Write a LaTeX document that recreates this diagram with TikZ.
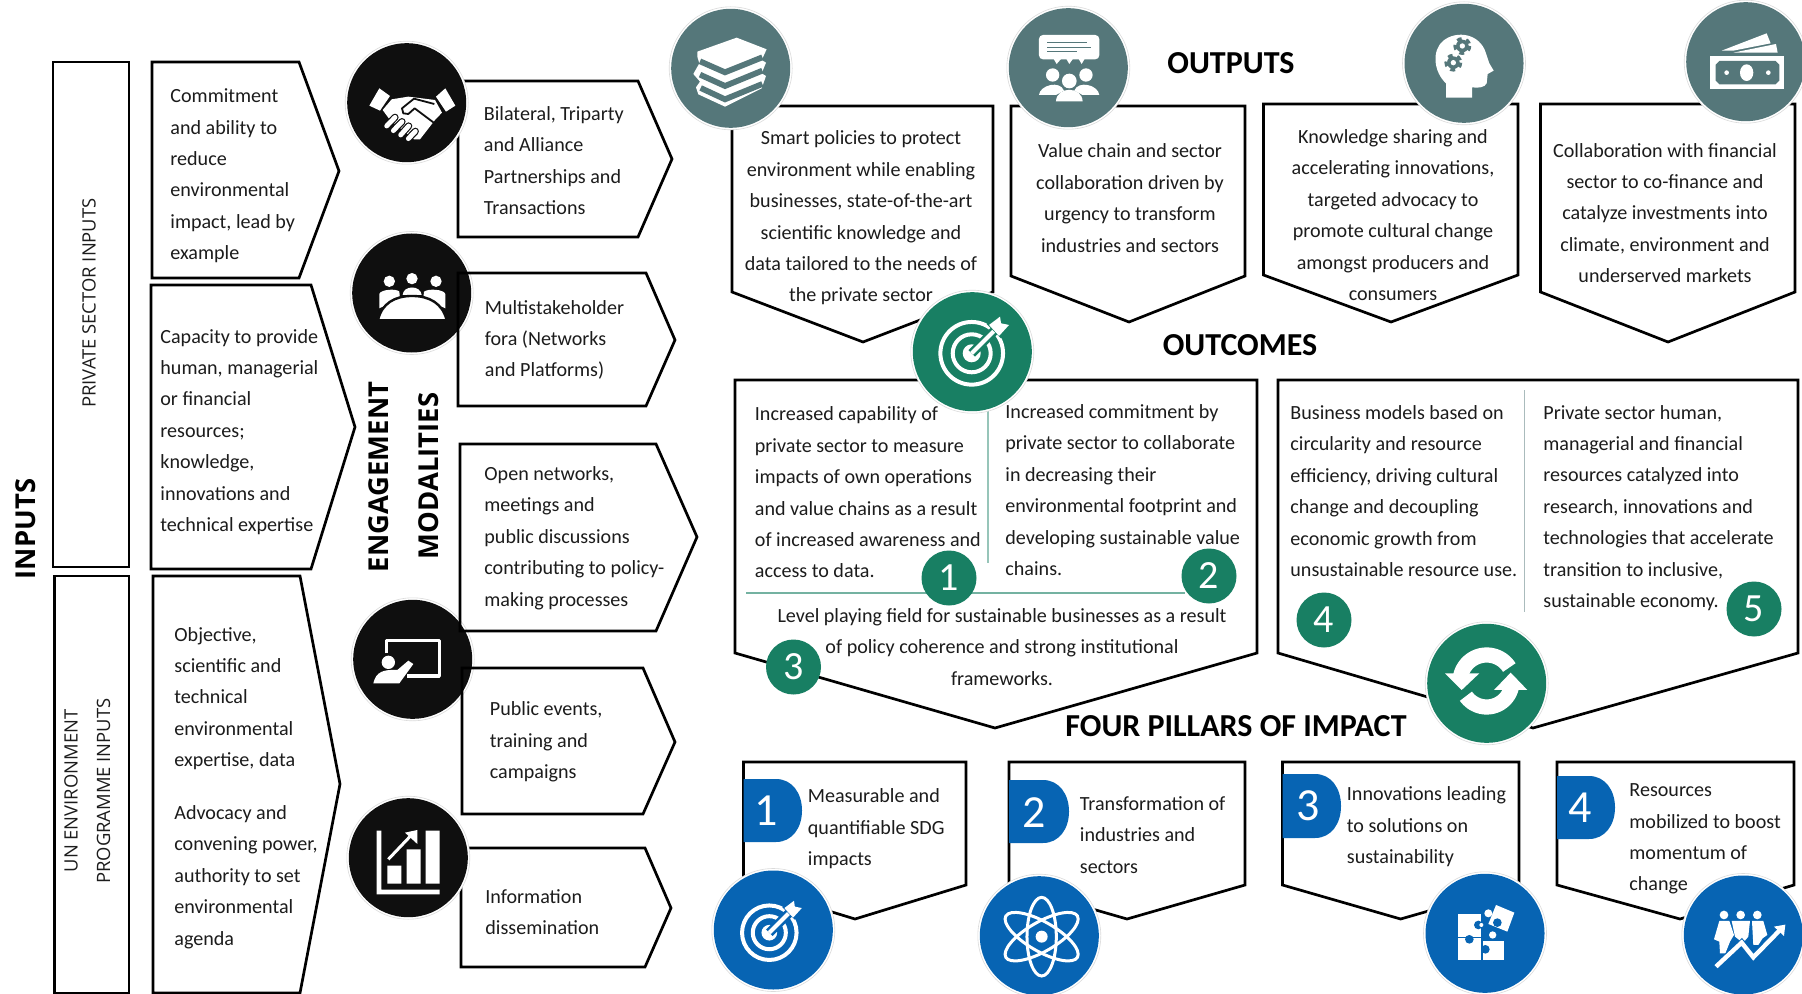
\documentclass[tikz,border=0pt]{standalone}
\usepackage{fontspec}
\setmainfont{Carlito}
\newfontfamily\osans{Open Sans}
\definecolor{ink}{HTML}{1C1C1C}
\definecolor{slate}{HTML}{55777A}
\definecolor{leaf}{HTML}{187F63}
\definecolor{azure}{HTML}{0764B3}
\definecolor{coal}{HTML}{0F0F0F}
\tikzset{
 shapeline/.style={draw=black,line width=1.35pt,line join=miter},
 body/.style={inner sep=0,text=ink,font=\fontsize{10.05}{15.7}\selectfont},
 lbody/.style={body,align=left,anchor=west},
 cbody/.style={body,align=center},
 head/.style={inner sep=0,font=\fontsize{16}{18}\selectfont\bfseries,text=black},
 side/.style={inner sep=0,rotate=90,font=\osans\fontsize{9.2}{11}\selectfont,text=ink},
 sidebold/.style={inner sep=0,rotate=90,font=\osans\bfseries\fontsize{13.7}{16}\selectfont,text=black},
 numdisc/.style={circle,fill=leaf,text=white,minimum size=27.5pt,inner sep=0,font=\fontsize{20}{22}\selectfont},
 numtab/.style={inner sep=0,text=white,font=\fontsize{23}{25}\selectfont},
}
% horizontal pentagon: x0 shoulder tipx top bottom tipy
\newcommand\hpent[6]{\draw[shapeline] (#1,#4) -- (#2,#4) -- (#3,#6) -- (#2,#5) -- (#1,#5) -- cycle;}
% downward pentagon: left right top shoulder tipx tipy
\newcommand\vpent[6]{\draw[shapeline] (#1,#3) -- (#2,#3) -- (#2,#4) -- (#5,#6) -- (#1,#4) -- cycle;}
% disc with halo: x y colour
\newcommand\disc[3]{\fill[white] (#1,#2) circle (61.5); \draw[black!14,line width=.3pt] (#1,#2) circle (61.5); \fill[#3] (#1,#2) circle (59.5);}
% tab: x0 x1 y0 y1
\newcommand\tabshape[4]{\fill[azure] (#1,#3) -- ({#2-26},#3) .. controls ({#2-10},#3) and (#2,{#3+14}) .. (#2,{(#3+#4)/2}) .. controls (#2,{#4-14}) and ({#2-10},#4) .. ({#2-26},#4) -- (#1,#4) -- cycle;}
\newcommand\target[1]{%
 \draw[white,line width=2pt] (0,0) circle (94);
 \draw[white,line width=2pt] (0,0) circle (57);
 \fill[white] (0,0) circle (27);
 \draw[#1,line width=4.6pt] (0,0) -- (78,-78);
 \draw[white,line width=2pt] (0,0) -- (78,-78);
 \fill[#1] (45,-88) -- (88,-128) -- (128,-88) -- (88,-45) -- cycle;
 \fill[white] (52,-85) -- (85,-110) -- (88,-90) -- (112,-85) -- (82,-52) -- cycle;
}
\begin{document}
\begin{tikzpicture}[x=0.5pt,y=-0.5pt]
\useasboundingbox (0,0) rectangle (1802,994);
\fill[white] (0,0) rectangle (1802,994);
% discs under the boxes
\disc{411.7}{293}{coal}
\disc{412.7}{659.3}{coal}
% icon: people at table
\begin{scope}[shift={(340,40)},scale=.3333]
 \fill[white] (148,724) circle (17) (216,716) circle (17) (288,724) circle (17);
 \fill[white] (118,805) -- (118,762) .. controls (122,748) and (170,745) .. (178,755) -- (180,775) -- cycle;
 \fill[white] (316,805) -- (316,762) .. controls (312,748) and (265,745) .. (252,755) -- (250,775) -- cycle;
 \fill[white] (188,765) .. controls (190,735) and (242,735) .. (245,765) -- cycle;
 \draw[coal,line width=1.2pt,fill=white] (114,841) .. controls (125,790) and (165,768) .. (216,768) .. controls (268,768) and (308,790) .. (320,841) -- cycle;
\end{scope}
% icon: presentation
\begin{scope}[shift={(340,590)},scale=.3333]
 \draw[white,line width=1.6pt,line join=round] (140,190) -- (140,152) -- (298,152) -- (298,258) -- (200,258);
 \fill[white] (145,217) circle (20);
 \fill[white] (100,280) .. controls (108,245) and (130,238) .. (172,240) -- (205,212) -- (220,222) -- (178,280) -- cycle;
\end{scope}
% left boxes
\draw[shapeline] (53,62) rectangle (129,567);
\draw[shapeline] (54.5,576) rectangle (129,993);
\hpent{152}{299}{339}{62}{278}{171}
\hpent{151}{311}{355}{285}{569}{427}
\hpent{153}{300}{340}{576}{993}{784}
% modality boxes
\hpent{458}{638}{672}{81}{237}{159}
\hpent{458}{646}{675}{273}{406}{340}
\hpent{460}{656}{697}{444}{631}{537}
\hpent{462}{643}{675}{668}{814}{742}
\hpent{461}{645}{671}{848}{967}{908}
% outputs boxes
\vpent{732}{993}{106}{292}{863}{342}
\vpent{1011}{1245}{106}{276}{1129}{322}
\vpent{1263.5}{1518}{104}{275}{1391}{322}
\vpent{1540.5}{1795}{104}{292}{1668}{342}
% outcomes boxes
\vpent{735}{1257}{380}{653}{995}{728}
\vpent{1278}{1798}{380}{653}{1533}{728}
\draw[leaf!45!white,line width=.6pt] (988,407) -- (988,563);
\draw[leaf!60!white,line width=.6pt] (746,593) -- (1185,593);
\draw[slate!50!white,line width=.5pt] (1524,390) -- (1524,612);
% pillar boxes
\vpent{743.5}{966}{762}{885}{855}{919}
\vpent{1009}{1245}{762}{885}{1127}{919}
\vpent{1282.5}{1519}{762}{885}{1400.6}{919}
\vpent{1557}{1794}{762}{885}{1680}{919}
\tabshape{743.5}{802}{779}{842}
\tabshape{1009}{1069}{780}{843}
\tabshape{1282.5}{1341}{774}{838}
\tabshape{1557}{1615}{776}{839}
% black discs on top of boxes
\disc{406.7}{102.7}{coal}
\disc{408.3}{857.7}{coal}
% icon: handshake
\begin{scope}[shift={(340,40)},scale=.3333]
 \fill[white] (88,197) -- (118,145) -- (150,168) -- (120,212) -- cycle;
 \fill[white] (288,170) -- (316,145) -- (346,197) -- (318,215) -- cycle;
 \fill[white] (128,210) -- (155,178) -- (205,170) -- (285,180) -- (306,218) -- (285,240) -- (240,298) -- (222,298) -- (150,240) -- cycle;
 \draw[coal,line width=.9pt,line join=round] (283,192) -- (222,176) -- (186,205) -- (190,220) -- (205,222) -- (224,205) -- (284,250);
 \foreach \a/\b/\c/\d in {140/258/165/232,160/272/186/245,182/285/206/258,205/296/226/274}{
  \draw[coal,line width=3.6pt,line cap=round] (\a,\b) -- (\c,\d);
  \draw[white,line width=2.4pt,line cap=round] (\a,\b) -- (\c,\d);}
\end{scope}
% icon: bar chart
\begin{scope}[shift={(340,590)},scale=.3333]
 \fill[white] (110,722) rectangle (124,912) (110,899) rectangle (299,913);
 \fill[white] (142,827) rectangle (184,881) (200,778) rectangle (242,881) (257,722) rectangle (299,881);
 \draw[coal,line width=3pt] (145,808) -- (215,735);
 \draw[white,line width=1.5pt] (145,808) -- (222,727);
 \fill[white] (195,728) -- (232,720) -- (232,762) -- cycle;
\end{scope}
% slate discs
\disc{730.7}{68.3}{slate}
\disc{1068.3}{67.7}{slate}
\disc{1464}{63.3}{slate}
\disc{1745.7}{61.7}{slate}
% icon: books
\begin{scope}[shift={(660,0)},scale=.3333]
 \fill[white] (112,155) -- (230,113) -- (320,148) -- (318,152) -- (305,180) -- (318,188) -- (305,220) -- (318,228) -- (305,265) -- (195,320) -- (115,283) -- (108,262) -- (120,245) -- (100,222) -- (118,190) -- (112,170) -- cycle;
 \draw[slate,line width=2.9pt,line join=miter] (120,184) -- (195,217) -- (307,172);
 \draw[slate,line width=2.9pt,line join=miter] (120,224) -- (195,258) -- (307,212);
 \draw[slate,line width=2.9pt,line join=miter] (122,264) -- (195,298) -- (307,252);
\end{scope}
% icon: talk
\begin{scope}[shift={(660,0)},scale=.3333]
 \fill[white,rounded corners=2pt] (1137,105) rectangle (1318,178);
 \fill[white] (1180,175) -- (1190,192) -- (1205,175) -- (1218,175) -- (1228,192) -- (1240,175) -- (1255,175) -- (1265,192) -- (1275,175) -- cycle;
 \draw[slate,line width=.8pt] (1162,128) -- (1280,128) (1162,142) -- (1292,142) (1162,155) -- (1252,155);
 \fill[white] (1178,225) circle (20) (1278,225) circle (20) (1228,243) circle (22);
 \fill[white] (1137,285) .. controls (1140,255) and (1200,240) .. (1212,272) -- (1188,285) -- cycle;
 \fill[white] (1318,285) .. controls (1315,255) and (1255,240) .. (1243,272) -- (1268,285) -- cycle;
 \fill[white] (1188,304) .. controls (1190,258) and (1266,258) .. (1268,304) -- cycle;
\end{scope}
% icon: head with gears
\begin{scope}[shift={(1400,0)},scale=.3333]
 \fill[white] (138,293) -- (138,250) .. controls (100,215) and (95,150) .. (130,122) .. controls (170,90) and (240,100) .. (258,160) -- (268,190) -- (281,212) -- (263,222) -- (260,250) .. controls (255,262) and (235,265) .. (216,262) -- (216,293) -- cycle;
 \foreach \p/\q in {187/138,160/188}{
  \draw[slate,line width=1.6pt,dash pattern=on 2.4pt off 2.4pt] (\p,\q) circle (22);
  \fill[slate] (\p,\q) circle (19);
  \fill[white] (\p,\q) circle (8);}
\end{scope}
% icon: money
\begin{scope}[shift={(1400,0)},scale=.3333]
 \fill[white] (930,168) rectangle (1153,268);
 \fill[slate] (958,183) -- (1127,183) -- (1138,194) -- (1138,242) -- (1127,253) -- (958,253) -- (947,242) -- (947,194) -- cycle;
 \fill[white] (1040,218) ellipse (20 and 25);
 \fill[white] (980,218) circle (7) (1105,218) circle (7);
 \fill[white] (965,152) -- (1100,100) -- (1112,130) -- (1000,152) -- cycle;
 \fill[white] (1000,158) -- (1128,132) -- (1133,158) -- cycle;
\end{scope}
% green discs
\disc{972.3}{351.7}{leaf}
\disc{1486.7}{683.3}{leaf}
\begin{scope}[shift={(971.7,353.3)},scale=.3333]
 \target{leaf}
\end{scope}
% icon: cycle
\begin{scope}[shift={(1420,620)},scale=.3333]
 \draw[white,line width=7.6pt] plot[domain=175:32,samples=30] ({200+80*cos(\x)},{185-80*sin(\x)});
 \draw[white,line width=7.6pt] plot[domain=-10:-145,samples=30] ({200+76*cos(\x)},{185-76*sin(\x)});
 \fill[white] (75,160) -- (178,160) -- (125,210) -- cycle;
 \fill[white] (222,210) -- (322,210) -- (272,158) -- cycle;
\end{scope}
% blue discs
\disc{773.3}{930}{azure}
\disc{1039.3}{935.7}{azure}
\disc{1485}{933.3}{azure}
\disc{1743.3}{935}{azure}
\begin{scope}[shift={(769.3,932.7)},scale=.2900]
 \target{azure}
\end{scope}
% icon: atom
\begin{scope}[shift={(710,870)},scale=.3333]
 \draw[white,line width=1.5pt] (995,200) ellipse [x radius=124,y radius=44,rotate=30];
 \draw[white,line width=1.5pt] (995,200) ellipse [x radius=124,y radius=44,rotate=-30];
 \draw[white,line width=1.5pt] (995,200) ellipse [x radius=118,y radius=44,rotate=90];
 \fill[white] (995,200) circle (18);
\end{scope}
% icon: puzzle
\begin{scope}[shift={(1420,620)},scale=.3333]
 \fill[white] (115,883) rectangle (184,950);
 \fill[white] (115,955) rectangle (184,1020);
 \fill[white] (190,963) rectangle (252,1020);
 \fill[white] (228,855) -- (283,878) -- (262,935) -- (205,912) -- cycle;
 \fill[white] (205,880) circle (12);
 \fill[white] (218,945) circle (11);
 \fill[azure] (175,915) circle (13) (148,958) circle (13) (196,988) circle (13) (232,908) circle (13);
 \fill[white] (184,915) circle (6);
\end{scope}
% icon: team growth
\begin{scope}[shift={(1420,620)},scale=.3333]
 \fill[white] (912,885) circle (13) (962,885) circle (13) (1012,885) circle (13);
 \fill[white] (898,903) -- (928,903) -- (942,945) -- (930,965) -- (916,1000) -- (900,1000) -- (898,965) -- (882,958) -- cycle;
 \fill[white] (935,903) -- (990,903) -- (985,950) -- (975,962) -- (960,962) -- (945,950) -- cycle;
 \fill[white] (996,903) -- (1030,903) -- (1042,945) -- (1028,955) -- (1015,975) -- (1000,975) -- cycle;
 \draw[azure,line width=3.2pt,line join=miter] (888,1040) -- (965,968) -- (1000,1012) -- (1085,925);
 \draw[white,line width=2.2pt,line join=miter] (888,1040) -- (965,968) -- (1000,1012) -- (1085,925);
 \fill[white] (1062,920) -- (1096,914) -- (1092,948) -- cycle;
\end{scope}
% text: side labels
\node[sidebold] (tInputs) at (26,529) {INPUTS};
\node[side] (tPriv) at (89,303) {PRIVATE SECTOR INPUTS};
\node[side] (tUN) at (71,791) {UN ENVIRONMENT};
\node[side] (tProg) at (103.5,791) {PROGRAMME INPUTS};
\node[sidebold] (tEng) at (379,477) {ENGAGEMENT};
\node[sidebold] (tMod) at (429,476) {MODALITIES};
% text: headings
\node[head] (hOut) at (1231,63) {OUTPUTS};
\node[head] (hOutc) at (1240,345) {OUTCOMES};
\node[head] (hFour) at (1236,726) {FOUR PILLARS OF IMPACT};
% text: inputs
\node[lbody] (i1) at (170,176) {Commitment\\and ability to\\reduce\\environmental\\impact, lead by\\example};
\node[lbody] (i2) at (160,432) {Capacity to provide\\human, managerial\\or financial\\resources;\\knowledge,\\innovations and\\technical expertise};
\node[lbody] (i3) at (174,698.5) {Objective,\\scientific and\\technical\\environmental\\expertise, data};
\node[lbody] (i4) at (174,877) {Advocacy and\\convening power,\\authority to set\\environmental\\agenda};
% text: modalities
\node[lbody] (m1) at (483.5,160.5) {Bilateral, Triparty\\and Alliance\\Partnerships and\\Transactions};
\node[lbody] (m2) at (484.5,340) {Multistakeholder\\fora (Networks\\and Platforms)};
\node[lbody] (m3) at (484,538) {Open networks,\\meetings and\\public discussions\\contributing to policy-\\making processes};
\node[lbody] (m4) at (489.5,742) {Public events,\\training and\\campaigns};
\node[lbody] (m5) at (485,912) {Information\\dissemination};
% text: outputs
\node[cbody] (o1) at (861,218) {Smart policies to protect\\environment while enabling\\businesses, state-of-the-art\\scientific knowledge and\\data tailored to the needs of\\the private sector};
\node[cbody] (o2) at (1130,198) {Value chain and sector\\collaboration driven by\\urgency to transform\\industries and sectors};
\node[cbody] (o3) at (1393,215) {Knowledge sharing and\\accelerating innovations,\\targeted advocacy to\\promote cultural change\\amongst producers and\\consumers};
\node[cbody] (o4) at (1665,213) {Collaboration with financial\\sector to co-finance and\\catalyze investments into\\climate, environment and\\underserved markets};
% text: outcomes
\node[lbody] (c1) at (754.5,492.5) {Increased capability of\\private sector to measure\\impacts of own operations\\and value chains as a result\\of increased awareness and\\access to data.};
\node[lbody] (c2) at (1005,490) {Increased commitment by\\private sector to collaborate\\in decreasing their\\environmental footprint and\\developing sustainable value\\chains.};
\node[cbody] (c3) at (1002,647) {Level playing field for sustainable businesses as a result\\of policy coherence and strong institutional\\frameworks.};
\node[lbody] (c4) at (1290,491) {Business models based on\\circularity and resource\\efficiency, driving cultural\\change and decoupling\\economic growth from\\unsustainable resource use.};
\node[lbody] (c5) at (1543,508) {Private sector human,\\managerial and financial\\resources catalyzed into\\research, innovations and\\technologies that accelerate\\transition to inclusive,\\sustainable economy.};
% numbered discs
\node[numdisc] (n1) at (949,578) {1};
\node[numdisc] (n2) at (1209,576) {2};
\node[numdisc] (n3) at (793.5,667) {3};
\node[numdisc] (n4) at (1324,620) {4};
\node[numdisc] (n5) at (1754,609) {5};
% pillars
\node[numtab] (p1) at (766,811) {1};
\node[numtab] (p2) at (1034,813) {2};
\node[numtab] (p3) at (1308,806) {3};
\node[numtab] (p4) at (1580,808) {4};
\node[lbody] (t1) at (807.5,829) {Measurable and\\quantifiable SDG\\impacts};
\node[lbody] (t2) at (1079.5,835) {Transformation of\\industries and\\sectors};
\node[lbody] (t3) at (1346.5,827) {Innovations leading\\to solutions on\\sustainability};
\node[lbody] (t4) at (1629,839) {Resources\\mobilized to boost\\momentum of\\change};
\end{tikzpicture}
\end{document}
